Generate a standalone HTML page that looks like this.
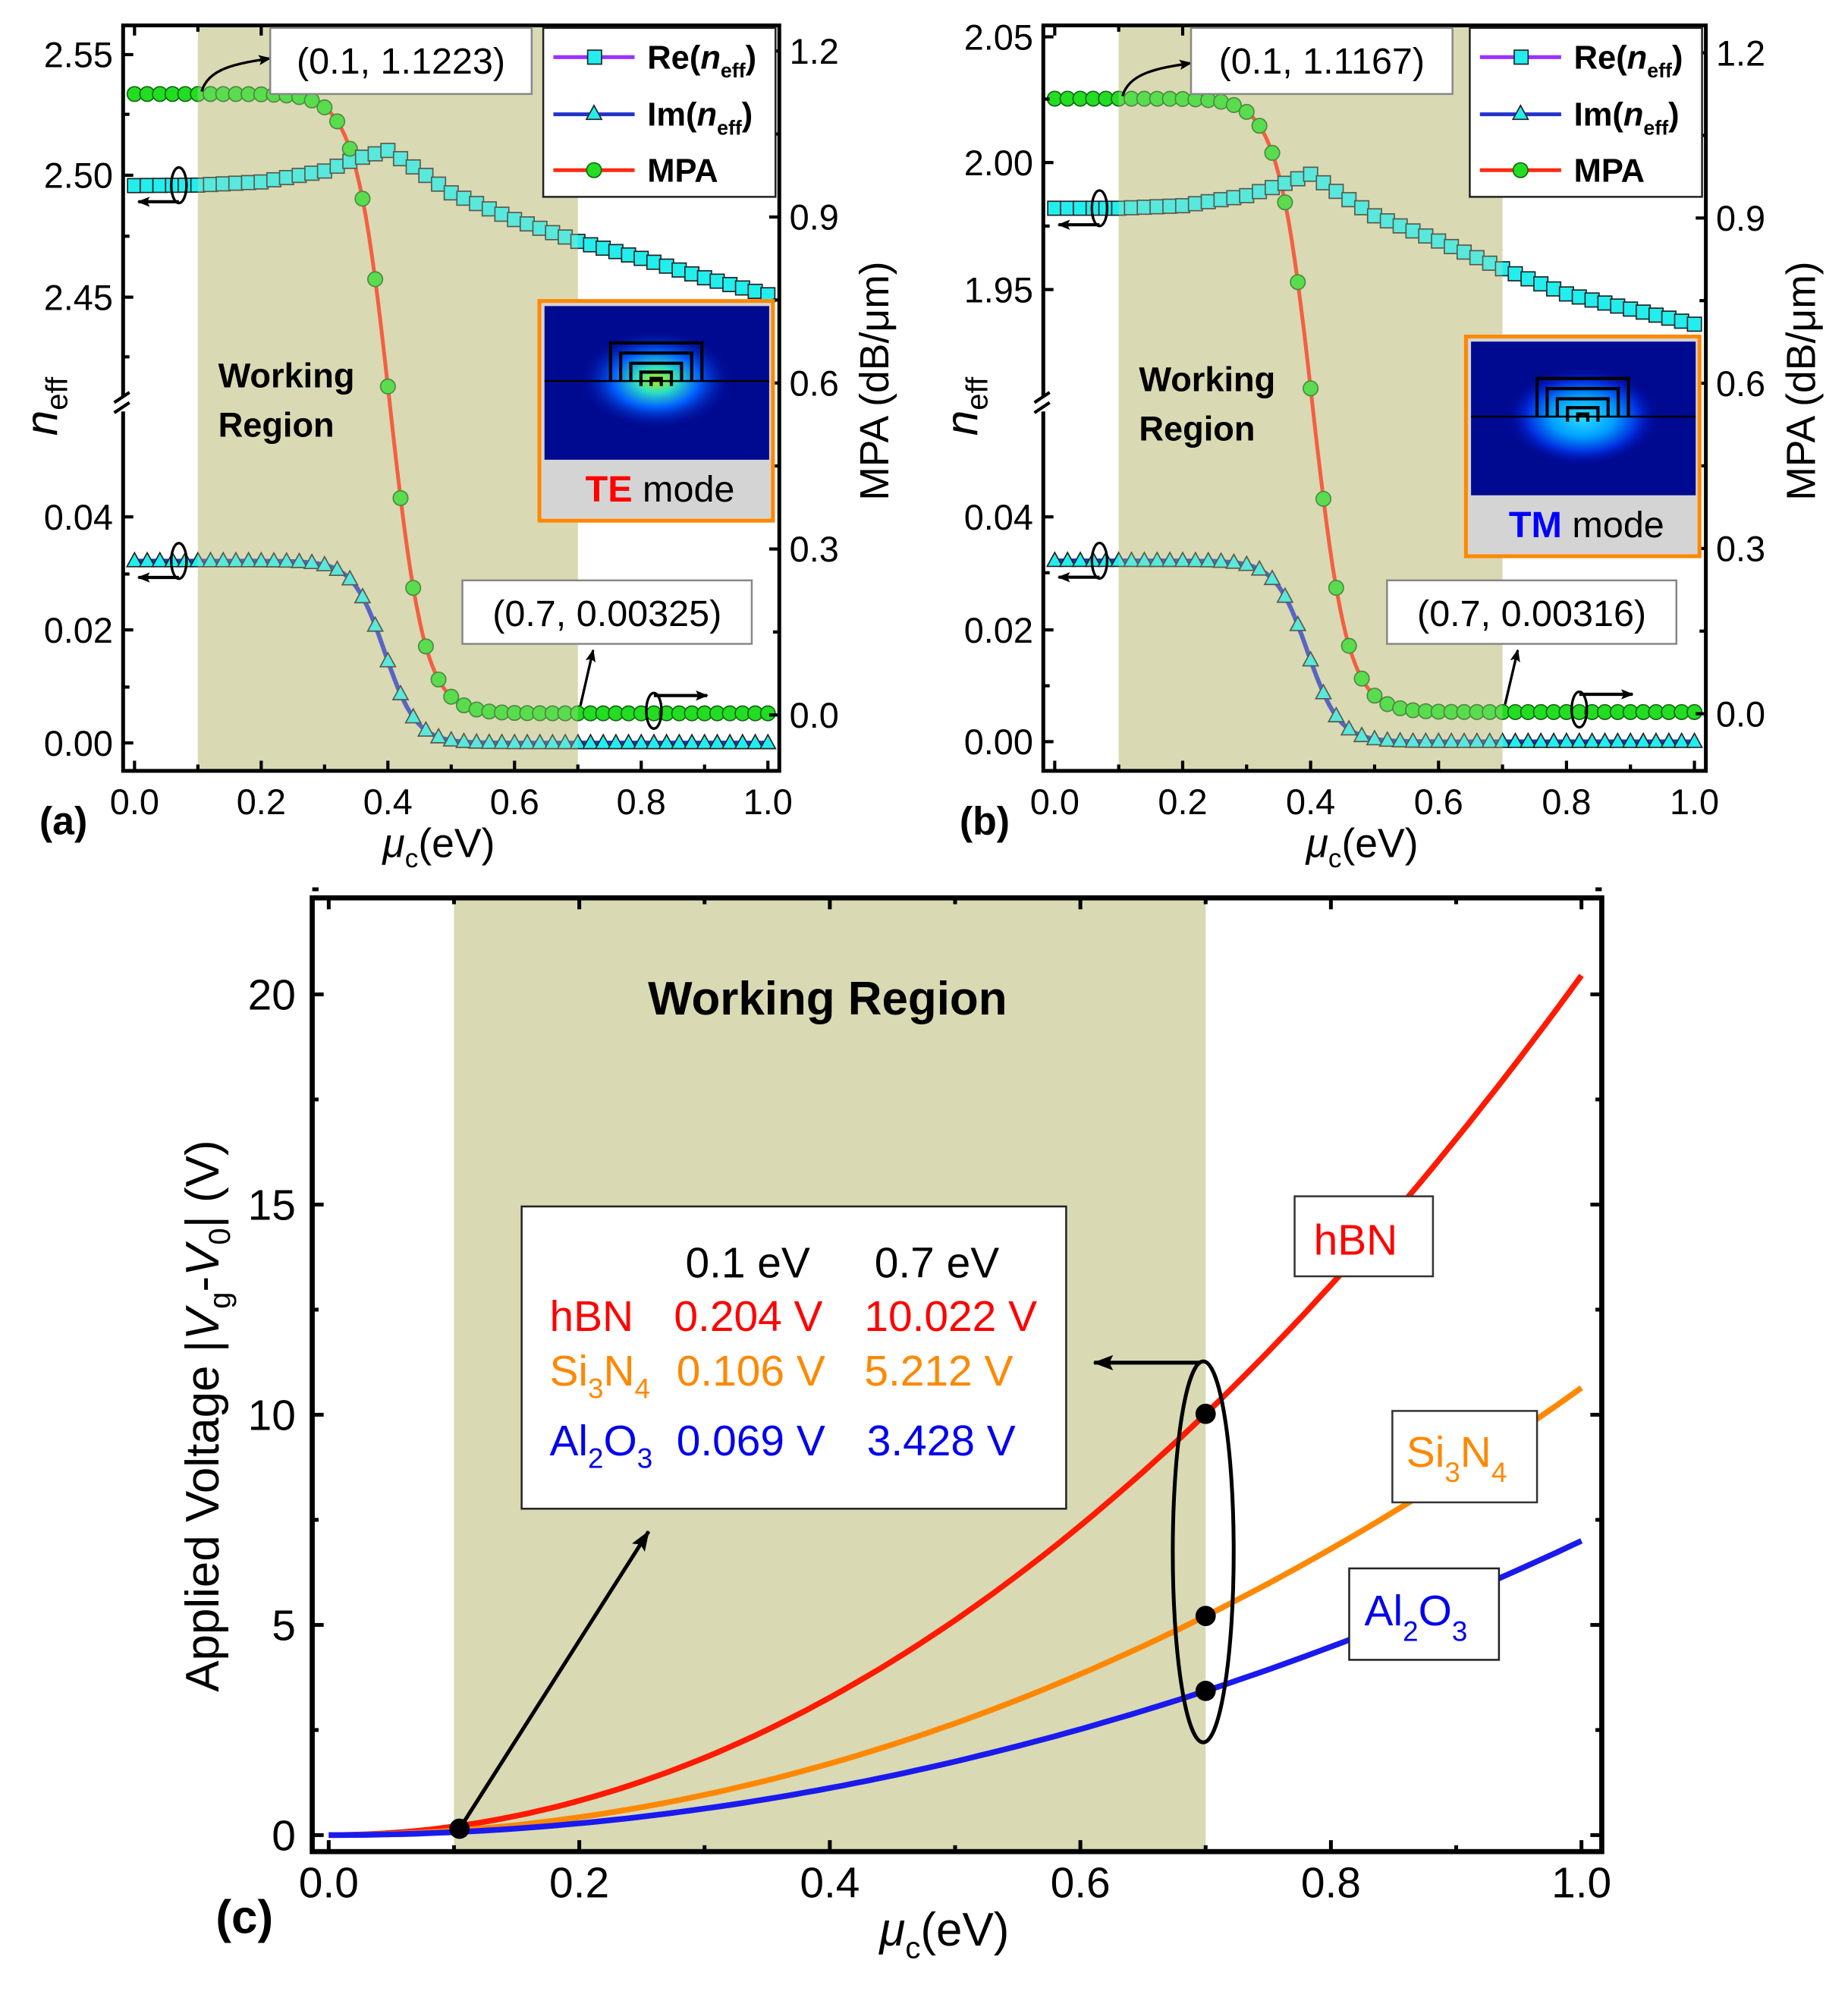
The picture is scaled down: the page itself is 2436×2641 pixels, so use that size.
<!DOCTYPE html>
<html><head><meta charset="utf-8"><style>
html,body{margin:0;padding:0;background:#fff}
svg{display:block}
text{font-family:"Liberation Sans",Arial,sans-serif}
</style></head><body>
<svg id="s" xmlns="http://www.w3.org/2000/svg" width="2436" height="2641" viewBox="0 0 1456 1578" preserveAspectRatio="none">
<defs>
<radialGradient id="fa" cx="0.5" cy="0.5" r="0.5">
<stop offset="0" stop-color="#b8f000"/><stop offset="0.25" stop-color="#30e0c0"/><stop offset="0.55" stop-color="#0060ff"/><stop offset="1" stop-color="#000090" stop-opacity="0"/>
</radialGradient>
<radialGradient id="fb" cx="0.5" cy="0.5" r="0.5">
<stop offset="0" stop-color="#30e0ff"/><stop offset="0.4" stop-color="#00a0ff"/><stop offset="0.7" stop-color="#0030e0"/><stop offset="1" stop-color="#000090" stop-opacity="0"/>
</radialGradient>
<marker id="ah" markerWidth="10" markerHeight="8" refX="9" refY="4" orient="auto" markerUnits="userSpaceOnUse"><path d="M0,0 L10,4 L0,8 L2,4 z" fill="#000"/></marker>
<marker id="ah2" markerWidth="16" markerHeight="12" refX="15" refY="6" orient="auto" markerUnits="userSpaceOnUse"><path d="M0,0 L16,6 L0,12 L3,6 z" fill="#000"/></marker>
</defs>
<g id="g"></g>
</svg>
<script>
var G=document.getElementById('g'),out='';
function A(s){out+=s;}
function logi(x,c,s){return 1/(1+Math.exp((x-c)/s));}
function interp(t,x){for(var i=0;i<t.length-1;i++){if(x<=t[i+1][0]){var f=(x-t[i][0])/(t[i+1][0]-t[i][0]);return t[i][1]+f*(t[i+1][1]-t[i][1]);}}return t[t.length-1][1];}
function panel(P){
 var X=function(v){return P.xa+v*(P.xb-P.xa);};
 A('<rect x="'+X(0.1)+'" y="'+P.y0+'" width="'+(X(0.7)-X(0.1))+'" height="'+(P.y1-P.y0)+'" fill="#d9d9b4"/>');
 var re='',im='',mp='';
 for(var i=0;i<=200;i++){var x=i/200;
  re+=(i?'L':'M')+X(x).toFixed(1)+','+P.yRe(interp(P.re,x)).toFixed(1);
  im+=(i?'L':'M')+X(x).toFixed(1)+','+P.yIm(0.0322*logi(x,0.395,0.025)).toFixed(1);
  mp+=(i?'L':'M')+X(x).toFixed(1)+','+P.yM(0.003+(P.m0-0.003)*logi(x,0.403,0.027)).toFixed(1);}
 A('<path d="'+re+'" fill="none" stroke="#9933ff" stroke-width="2.5"/>');
 A('<path d="'+im+'" fill="none" stroke="#2233cc" stroke-width="3.5"/>');
 A('<path d="'+mp+'" fill="none" stroke="#ff2a10" stroke-width="3"/>');
 for(var i=0;i<=50;i++){var x=i/50,px=X(x);
  var y1=P.yRe(interp(P.re,x));A('<rect x="'+(px-5.5)+'" y="'+(y1-5.5)+'" width="11" height="11" fill="#22eeee" stroke="#222" stroke-width="1"/>');
  var y2=P.yIm(0.0322*logi(x,0.395,0.025));A('<path d="M'+px+','+(y2-6.5)+' L'+(px+6)+','+(y2+4.5)+' L'+(px-6)+','+(y2+4.5)+'z" fill="#22eeee" stroke="#222" stroke-width="1"/>');
  var y3=P.yM(0.003+(P.m0-0.003)*logi(x,0.403,0.027));A('<circle cx="'+px+'" cy="'+y3+'" r="5.8" fill="#22dd22" stroke="#116611" stroke-width="1"/>');}
 A('<rect x="'+X(0.1)+'" y="'+P.y0+'" width="'+(X(0.7)-X(0.1))+'" height="'+(P.y1-P.y0)+'" fill="#d9d9b4" opacity="0.3"/>');
 A('<rect x="'+P.x0+'" y="'+P.y0+'" width="'+(P.x1-P.x0)+'" height="'+(P.y1-P.y0)+'" fill="none" stroke="#000" stroke-width="3"/>');
 for(var i=0;i<=10;i++){var px=X(i/10),L=(i%2==0)?8:5;
  A('<line x1="'+px+'" y1="'+P.y1+'" x2="'+px+'" y2="'+(P.y1-L)+'" stroke="#000" stroke-width="2.5"/>');
  A('<line x1="'+px+'" y1="'+P.y0+'" x2="'+px+'" y2="'+(P.y0+L)+'" stroke="#000" stroke-width="2.5"/>');
  if(i%2==0)A('<text x="'+px+'" y="'+(P.y1+34)+'" font-size="28" text-anchor="middle">'+(i/10).toFixed(1)+'</text>');}
 P.lt.forEach(function(t){A('<line x1="'+P.x0+'" y1="'+t[1]+'" x2="'+(P.x0+8)+'" y2="'+t[1]+'" stroke="#000" stroke-width="2.5"/>');
  A('<text x="'+(P.x0-8)+'" y="'+(t[1]+10)+'" font-size="28" text-anchor="end">'+t[0]+'</text>');});
 P.lm.forEach(function(y){A('<line x1="'+P.x0+'" y1="'+y+'" x2="'+(P.x0+5)+'" y2="'+y+'" stroke="#000" stroke-width="2.5"/>');});
 A('<rect x="'+(P.x0-6)+'" y="'+(P.brk-6)+'" width="12" height="12" fill="#fff"/>');
 A('<line x1="'+(P.x0-7)+'" y1="'+(P.brk-1)+'" x2="'+(P.x0+5)+'" y2="'+(P.brk-9)+'" stroke="#000" stroke-width="2.5"/>');
 A('<line x1="'+(P.x0-7)+'" y1="'+(P.brk+7)+'" x2="'+(P.x0+5)+'" y2="'+(P.brk-1)+'" stroke="#000" stroke-width="2.5"/>');
 for(var k=0;k<=8;k++){var v=k*0.15,y=P.yM(v),L=(k%2==0)?8:5;
  A('<line x1="'+P.x1+'" y1="'+y+'" x2="'+(P.x1-L)+'" y2="'+y+'" stroke="#000" stroke-width="2.5"/>');
  if(k%2==0)A('<text x="'+(P.x1+8)+'" y="'+(y+10)+'" font-size="28">'+(v).toFixed(1)+'</text>');}
 A('<text transform="translate('+(P.x0-52)+',320) rotate(-90)" font-size="36" font-style="italic" text-anchor="middle">n<tspan font-style="normal" font-size="24" dy="8">eff</tspan></text>');
 A('<text transform="translate('+(P.x1+86)+',300) rotate(-90)" font-size="32" text-anchor="middle">MPA (dB/μm)</text>');
 A('<text x="'+(X(0.5)-54)+'" y="'+(P.y1+68)+'" font-size="32"><tspan font-style="italic">μ</tspan><tspan font-size="21" dy="8">c</tspan><tspan dy="-8">(eV)</tspan></text>');
 A('<text x="'+(P.x0-66)+'" y="'+(P.y1+50)+'" font-size="31" font-weight="bold">'+P.lab+'</text>');
 A('<text x="'+(X(0.1)+16)+'" y="'+(P.wr)+'" font-size="27" font-weight="bold">Working</text><text x="'+(X(0.1)+16)+'" y="'+(P.wr+39)+'" font-size="27" font-weight="bold">Region</text>');
 var ym0=P.yM(P.m0);
 A('<path d="M'+(X(0.1)+3)+','+(ym0-2)+' C'+(X(0.1)+8)+','+(ym0-20)+' '+(X(0.1)+30)+','+(ym0-24)+' '+(X(0.1)+57)+','+(ym0-28)+'" fill="none" stroke="#000" stroke-width="2" marker-end="url(#ah)"/>');
 A('<rect x="'+(X(0.1)+57)+'" y="'+(P.y0+2)+'" width="206" height="52" fill="#fff" stroke="#888" stroke-width="1.5"/>');
 A('<text x="'+(X(0.1)+160)+'" y="'+(P.y0+38)+'" font-size="29" text-anchor="middle">'+P.ann1+'</text>');
 var lx=P.x1-186;
 A('<rect x="'+lx+'" y="'+(P.y0+2)+'" width="183" height="133" fill="#fff" stroke="#222" stroke-width="1.5"/>');
 var ly=[P.y0+25,P.y0+70,P.y0+114],cols=['#9933ff','#2233cc','#ff2a10'];
 for(var j=0;j<3;j++){A('<line x1="'+(lx+8)+'" y1="'+ly[j]+'" x2="'+(lx+72)+'" y2="'+ly[j]+'" stroke="'+cols[j]+'" stroke-width="3"/>');}
 A('<rect x="'+(lx+35)+'" y="'+(ly[0]-5.5)+'" width="11" height="11" fill="#22eeee" stroke="#222"/>');
 A('<path d="M'+(lx+40)+','+(ly[1]-7)+' l6,11 l-12,0z" fill="#22eeee" stroke="#222"/>');
 A('<circle cx="'+(lx+40)+'" cy="'+ly[2]+'" r="5.8" fill="#22dd22" stroke="#116611"/>');
 A('<text x="'+(lx+82)+'" y="'+(ly[0]+9)+'" font-size="26" font-weight="bold">Re(<tspan font-style="italic">n</tspan><tspan font-size="16" dy="7">eff</tspan><tspan dy="-7">)</tspan></text>');
 A('<text x="'+(lx+82)+'" y="'+(ly[1]+9)+'" font-size="26" font-weight="bold">Im(<tspan font-style="italic">n</tspan><tspan font-size="16" dy="7">eff</tspan><tspan dy="-7">)</tspan></text>');
 A('<text x="'+(lx+82)+'" y="'+(ly[2]+9)+'" font-size="26" font-weight="bold">MPA</text>');
 var ix=P.x1-189,iy=P.iy;
 A('<rect x="'+ix+'" y="'+iy+'" width="184" height="173" fill="#d4d4d4" stroke="#ff8800" stroke-width="3"/>');
 A('<rect x="'+(ix+4)+'" y="'+(iy+4)+'" width="177" height="121" fill="#000a90"/>');
 var cy=iy+P.fc;
 A('<ellipse cx="'+(ix+92)+'" cy="'+cy+'" rx="62" ry="40" fill="url(#'+P.fg+')"/>');
 A('<line x1="'+(ix+4)+'" y1="'+(iy+P.fl)+'" x2="'+(ix+181)+'" y2="'+(iy+P.fl)+'" stroke="#000" stroke-width="1.5"/>');
 var bx=ix+92,bt=iy+P.fl;
 [[36,30],[28,22],[20,14],[12,7],[4,2]].forEach(function(b,k){A('<path d="M'+(bx-b[0])+','+(bt+(k>2?4:0))+' V'+(bt-b[1])+' H'+(bx+b[0])+' V'+(bt+(k>2?4:0))+'" fill="none" stroke="#000" stroke-width="2.5"/>');});
 A('<text x="'+(ix+95)+'" y="'+(iy+158)+'" font-size="29" text-anchor="middle"><tspan fill="'+P.mc+'" font-weight="bold">'+P.mode+'</tspan> mode</text>');
 var x7=X(0.7),ym1=P.yM(0.003);
 A('<rect x="'+(x7-91)+'" y="'+(P.a2y)+'" width="228" height="50" fill="#fff" stroke="#888" stroke-width="1.5"/>');
 A('<text x="'+(x7+23)+'" y="'+(P.a2y+36)+'" font-size="29" text-anchor="middle">'+P.ann2+'</text>');
 A('<line x1="'+(x7+2)+'" y1="'+(ym1-6)+'" x2="'+(x7+12)+'" y2="'+(P.a2y+55)+'" stroke="#000" stroke-width="2" marker-end="url(#ah)"/>');
 function la(ex,ey){A('<ellipse cx="'+ex+'" cy="'+ey+'" rx="6" ry="14" fill="none" stroke="#000" stroke-width="2"/>');
  A('<line x1="'+ex+'" y1="'+(ey+13)+'" x2="'+(P.x0+12)+'" y2="'+(ey+13)+'" stroke="#000" stroke-width="2.5" marker-end="url(#ah)"/>');}
 la(X(0.07),P.yRe(interp(P.re,0.07)));la(X(0.07),P.yIm(0.0322));
 var rx=X(0.82);A('<ellipse cx="'+rx+'" cy="'+(ym1-2)+'" rx="6" ry="14" fill="none" stroke="#000" stroke-width="2"/>');
 A('<path d="M'+rx+','+(ym1-14)+' H'+(rx+42)+'" stroke="#000" stroke-width="2.5" marker-end="url(#ah)"/>');
}
panel({x0:97,x1:614,y0:20,y1:607,xa:106,xb:605,lab:'(a)',
 yRe:function(v){return 43+(2.55-v)*1910;},yIm:function(v){return 585-v*4450;},yM:function(v){return 563-v*435.7;},
 re:[[0,2.496],[0.1,2.4962],[0.2,2.4975],[0.3,2.502],[0.35,2.507],[0.4,2.5105],[0.45,2.502],[0.5,2.493],[0.6,2.482],[0.7,2.473],[0.8,2.466],[0.9,2.458],[1.0,2.451]],
 m0:1.1223,lt:[['2.55',43],['2.50',138],['2.45',234],['0.04',407],['0.02',496],['0.00',585]],lm:[90,186,281,452,541],brk:318,wr:305,
 ann1:'(0.1, 1.1223)',ann2:'(0.7, 0.00325)',a2y:457,iy:237,fc:62,fl:63,fg:'fa',mode:'TE',mc:'#ff0000'});
panel({x0:822,x1:1344,y0:20,y1:607,xa:831,xb:1335,lab:'(b)',
 yRe:function(v){return 29+(2.05-v)*1985;},yIm:function(v){return 584-v*4425;},yM:function(v){return 562-v*433.7;},
 re:[[0,1.982],[0.1,1.982],[0.2,1.983],[0.3,1.987],[0.35,1.991],[0.4,1.9955],[0.45,1.987],[0.5,1.979],[0.6,1.969],[0.7,1.958],[0.8,1.948],[0.9,1.942],[1.0,1.936]],
 m0:1.1167,lt:[['2.05',29],['2.00',128],['1.95',228],['0.04',407],['0.02',496],['0.00',584]],lm:[78,178,451,540],brk:318,wr:308,
 ann1:'(0.1, 1.1167)',ann2:'(0.7, 0.00316)',a2y:457,iy:265,fc:63,fl:63,fg:'fb',mode:'TM',mc:'#0000ff'});
(function(){
 var x0=246,x1=1262,y0=707,y1=1458,X=function(v){return 259+v*987;},Y=function(v){return 1445-v*33.1;};
 A('<rect x="'+X(0.1)+'" y="'+y0+'" width="'+(X(0.7)-X(0.1))+'" height="'+(y1-y0)+'" fill="#d9d9b4"/>');
 A('<text x="652" y="799" font-size="37" font-weight="bold" text-anchor="middle">Working Region</text>');
 var cs=[[20.45,'#ff1a00'],[10.64,'#ff8800'],[7.0,'#1a1aee']];
 cs.forEach(function(c){var d='';for(var i=0;i<=100;i++){var x=i/100;d+=(i?'L':'M')+X(x).toFixed(1)+','+Y(c[0]*x*x).toFixed(1);}
  A('<path d="'+d+'" fill="none" stroke="'+c[1]+'" stroke-width="4.5"/>');});
 A('<rect x="'+x0+'" y="'+y0+'" width="'+(x1-x0)+'" height="'+(y1-y0)+'" fill="none" stroke="#000" stroke-width="4"/>');
 for(var i=0;i<=10;i++){var px=X(i/10),L=(i%2==0)?9:5;
  A('<line x1="'+px+'" y1="'+y1+'" x2="'+px+'" y2="'+(y1-L)+'" stroke="#000" stroke-width="3"/><line x1="'+px+'" y1="'+y0+'" x2="'+px+'" y2="'+(y0+L)+'" stroke="#000" stroke-width="3"/>');
  if(i%2==0)A('<text x="'+px+'" y="1494" font-size="34" text-anchor="middle">'+(i/10).toFixed(1)+'</text>');}
 for(var k=0;k<=9;k++){var y=Y(k*2.5),L=(k%2==0)?9:5;
  A('<line x1="'+x0+'" y1="'+y+'" x2="'+(x0+L)+'" y2="'+y+'" stroke="#000" stroke-width="3"/><line x1="'+x1+'" y1="'+y+'" x2="'+(x1-L)+'" y2="'+y+'" stroke="#000" stroke-width="3"/>');
  if(k%2==0)A('<text x="233" y="'+(y+12)+'" font-size="34" text-anchor="end">'+(k*2.5)+'</text>');}
 A('<text transform="translate(172,1115) rotate(-90)" font-size="37" text-anchor="middle">Applied Voltage |<tspan font-style="italic">V</tspan><tspan font-size="24" dy="9">g</tspan><tspan dy="-9">-</tspan><tspan font-style="italic">V</tspan><tspan font-size="24" dy="9">0</tspan><tspan dy="-9">| (V)</tspan></text>');
 A('<text x="693" y="1532" font-size="37"><tspan font-style="italic">μ</tspan><tspan font-size="24" dy="10">c</tspan><tspan dy="-10">(eV)</tspan></text>');
 A('<text x="170" y="1522" font-size="37" font-weight="bold">(c)</text>');
 A('<rect x="411" y="950" width="429" height="238" fill="#fff" stroke="#222" stroke-width="1.5"/>');
 var t=function(x,y,c,s){A('<text x="'+x+'" y="'+y+'" font-size="34" fill="'+c+'">'+s+'</text>');};
 t(540,1006,'#000','0.1 eV');t(689,1006,'#000','0.7 eV');
 t(433,1048,'#ff0000','hBN');t(531,1048,'#ff0000','0.204 V');t(681,1048,'#ff0000','10.022 V');
 t(433,1091,'#ff8800','Si<tspan font-size="22" dy="10">3</tspan><tspan dy="-10">N</tspan><tspan font-size="22" dy="10">4</tspan>');t(533,1091,'#ff8800','0.106 V');t(681,1091,'#ff8800','5.212 V');
 t(433,1146,'#0000ee','Al<tspan font-size="22" dy="10">2</tspan><tspan dy="-10">O</tspan><tspan font-size="22" dy="10">3</tspan>');t(533,1146,'#0000ee','0.069 V');t(683,1146,'#0000ee','3.428 V');
 A('<rect x="1020" y="942" width="109" height="63" fill="#fff" stroke="#333" stroke-width="1.5"/>');t(1035,988,'#ff0000','hBN');
 A('<rect x="1097" y="1111" width="114" height="72" fill="#fff" stroke="#333" stroke-width="1.5"/>');t(1108,1155,'#ff8800','Si<tspan font-size="22" dy="12">3</tspan><tspan dy="-12">N</tspan><tspan font-size="22" dy="12">4</tspan>');
 A('<rect x="1063" y="1235" width="118" height="72" fill="#fff" stroke="#222" stroke-width="1.5"/>');t(1075,1280,'#0000ee','Al<tspan font-size="22" dy="12">2</tspan><tspan dy="-12">O</tspan><tspan font-size="22" dy="12">3</tspan>');
 cs.forEach(function(c){A('<circle cx="'+X(0.7)+'" cy="'+Y(c[0]*0.49)+'" r="8" fill="#000"/>');});
 A('<circle cx="362" cy="1440" r="8" fill="#000"/>');
 A('<ellipse cx="948" cy="1222" rx="24" ry="150" fill="none" stroke="#000" stroke-width="3"/>');
 A('<line x1="946" y1="1073" x2="862" y2="1073" stroke="#000" stroke-width="3" marker-end="url(#ah2)"/>');
 A('<line x1="364" y1="1437" x2="511" y2="1206" stroke="#000" stroke-width="3" marker-end="url(#ah2)"/>');
})();
G.innerHTML=out;
</script>
</body></html>
